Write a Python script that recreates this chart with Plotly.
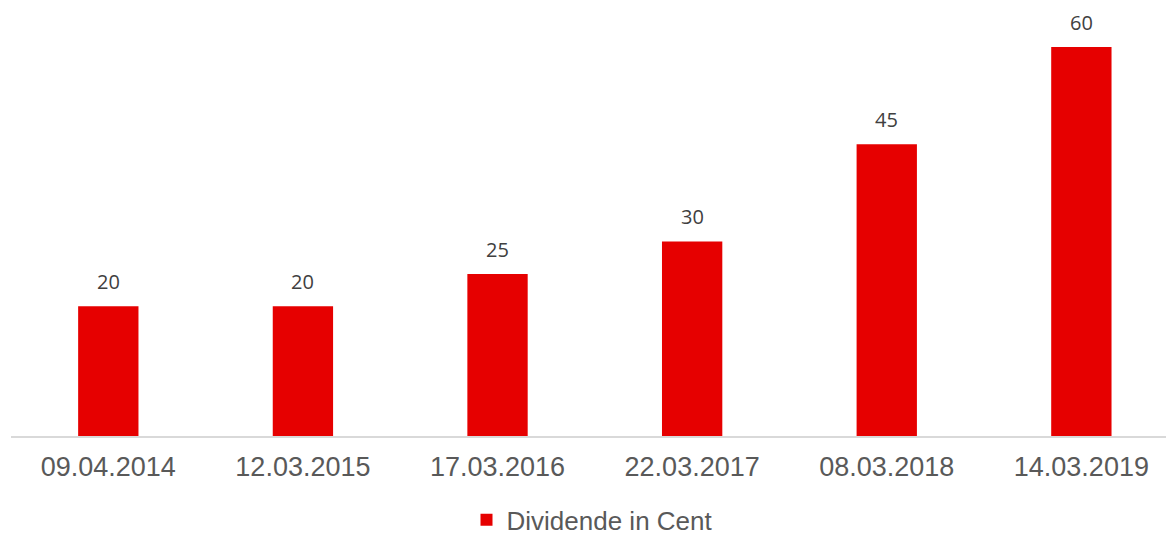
import plotly.graph_objects as go

categories = ["09.04.2014", "12.03.2015", "17.03.2016", "22.03.2017", "08.03.2018", "14.03.2019"]
values = [20, 20, 25, 30, 45, 60]
series_name = "Dividende in Cent"

fig = go.Figure()
fig.add_trace(go.Bar(
    x=categories, y=values, name=series_name,
    marker=dict(color="#e60000", line=dict(width=0)),
    width=0.31,
))
for c, v in zip(categories, values):
    fig.add_annotation(x=c, y=v, text=str(v), showarrow=False,
                       yanchor="bottom", yshift=9,
                       font=dict(family="Open Sans", size=20, color="#404040"))

fig.update_layout(
    width=1166, height=528,
    margin=dict(l=3, r=0, t=2, b=100, autoexpand=False),
    plot_bgcolor="white", paper_bgcolor="white",
    showlegend=True,
    legend=dict(orientation="h", x=0.5, xanchor="center", y=-0.197, yanchor="middle",
                font=dict(family="Liberation Sans", size=26, color="#595959"),
                itemwidth=30),
    xaxis=dict(range=[-0.5, 5.476], showline=True, linecolor="#d9d9d9", linewidth=1.5,
               ticks="", ticklabelstandoff=6,
               tickfont=dict(family="Liberation Sans", size=27, color="#595959"),
               showgrid=False),
    yaxis=dict(range=[0, 65.7], visible=False, showgrid=False, zeroline=False),
)
fig.write_html("out.html")
